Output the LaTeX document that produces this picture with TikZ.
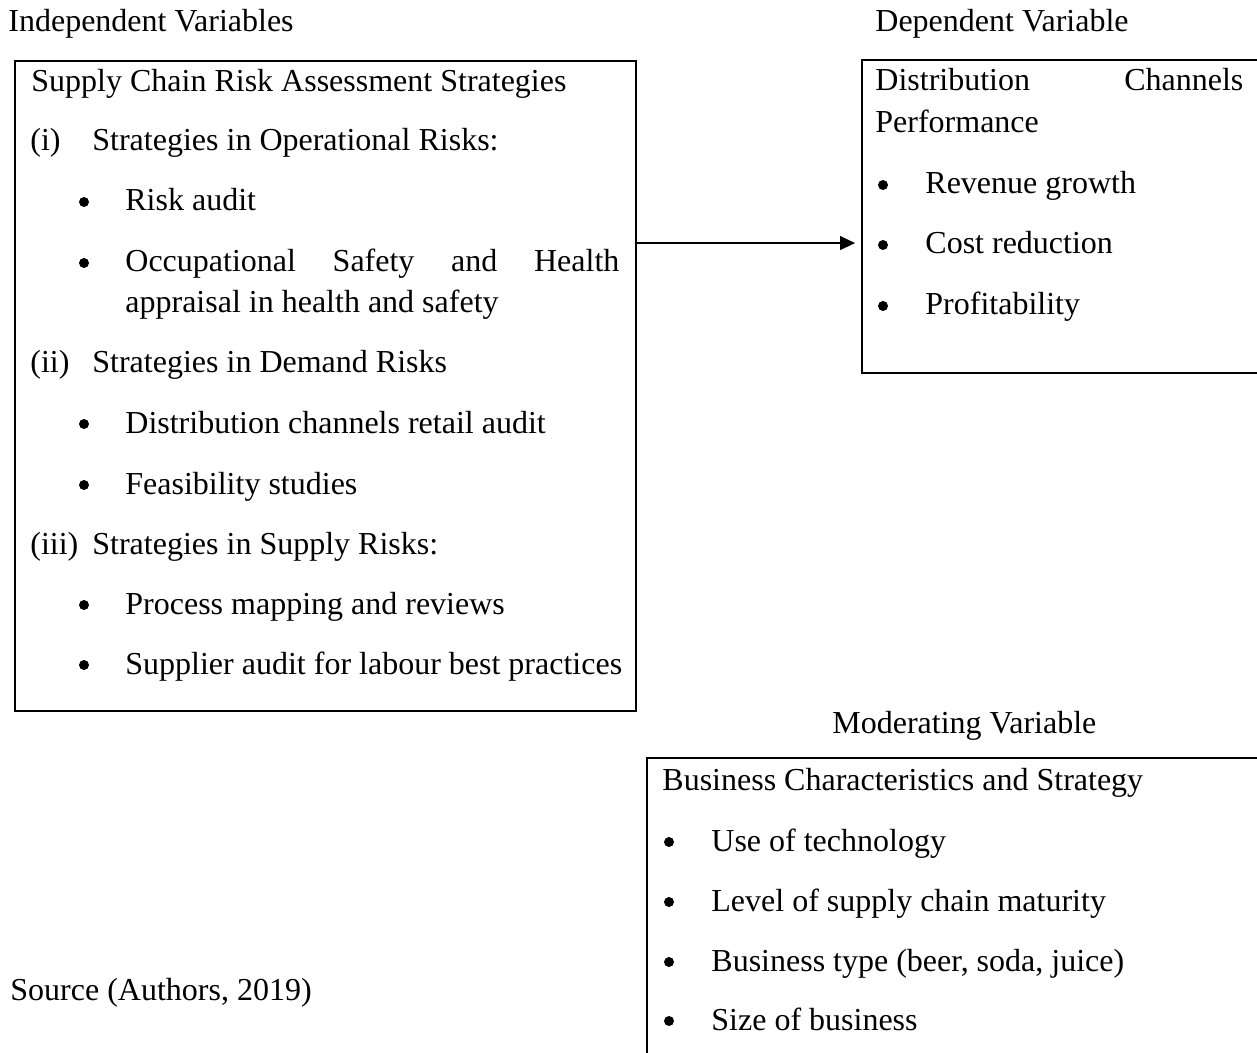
\documentclass[tikz,border=0pt]{standalone}
\usepackage{fontspec}
\setmainfont{Liberation Serif}
\usetikzlibrary{arrows.meta}
\begin{document}
\begin{tikzpicture}[x=0.5pt, y=-0.5pt,
   every node/.style={inner sep=0pt, font=\fontsize{16}{19}\selectfont},
   txt/.style={anchor=base west},
   bul/.style={circle, fill, minimum size=5pt},
   varbox/.style={draw, line width=1pt, anchor=north west},
   link/.style={-{Triangle[length=7.5pt,width=7pt]}, line width=0.6pt, shorten >=3pt}]

\useasboundingbox (0,0) rectangle (1257,1053);

% headings
\node[txt] (hind) at (8,32) {Independent Variables};
\node[txt] (hdep) at (875,32) {Dependent Variable};
\node[txt] (hmod) at (832,733) {Moderating Variable};
\node[txt] (src) at (10,1000) {Source (Authors, 2019)};

% boxes
\node[varbox, minimum width=310.5pt, minimum height=325pt] (indep) at (14,60) {};
\node[varbox, minimum width=202pt, minimum height=156.5pt] (dep) at (861,59) {};
\node[varbox, minimum width=310pt, minimum height=154pt] (mod) at (646,757) {};

% independent variables
\node[txt] (s0) at (31,92) {Supply Chain Risk Assessment Strategies};
\node[txt] (r1) at (30,151) {(i)};
\node[txt] (s1) at (92,151) {Strategies in Operational Risks:};
\node[bul] (b11) at (84,202) {};
\node[txt] (t11) at (125,211) {Risk audit};
\node[bul] (b12) at (84,263) {};
\node[txt] (t12) at (125,272) {\makebox[247pt][s]{Occupational Safety and Health}};
\node[txt] (t12b) at (125,313) {appraisal in health and safety};
\node[txt] (r2) at (30,372) {(ii)};
\node[txt] (s2) at (92,372) {Strategies in Demand Risks};
\node[bul] (b21) at (84,424) {};
\node[txt] (t21) at (125,433) {Distribution channels retail audit};
\node[bul] (b22) at (84,485) {};
\node[txt] (t22) at (125,494) {Feasibility studies};
\node[txt] (r3) at (30,554) {(iii)};
\node[txt] (s3) at (92,554) {Strategies in Supply Risks:};
\node[bul] (b31) at (84,605) {};
\node[txt] (t31) at (125,614) {Process mapping and reviews};
\node[bul] (b32) at (84,665) {};
\node[txt] (t32) at (125,674) {Supplier audit for labour best practices};

% dependent variable
\node[txt] (d0) at (875,91) {\makebox[184pt][s]{Distribution Channels}};
\node[txt] (d0b) at (875,133) {Performance};
\node[bul] (bd1) at (883,185) {};
\node[txt] (rev) at (925,194) {Revenue growth};
\node[bul] (bd2) at (883,245) {};
\node[txt] (cost) at (925,254) {Cost reduction};
\node[bul] (bd3) at (883,306) {};
\node[txt] (prof) at (925,315) {Profitability};

% moderating variable
\node[txt] (m0) at (662,790) {Business Characteristics and Strategy};
\node[bul] (bm1) at (669,842) {};
\node[txt] (m1) at (711,851) {Use of technology};
\node[bul] (bm2) at (669,902) {};
\node[txt] (m2) at (711,911) {Level of supply chain maturity};
\node[bul] (bm3) at (669,962) {};
\node[txt] (m3) at (711,971) {Business type (beer, soda, juice)};
\node[bul] (bm4) at (669,1021) {};
\node[txt] (m4) at (711,1030) {Size of business};

\draw[link] (indep.east |- cost) -- (dep.west |- cost);

\end{tikzpicture}
\end{document}
